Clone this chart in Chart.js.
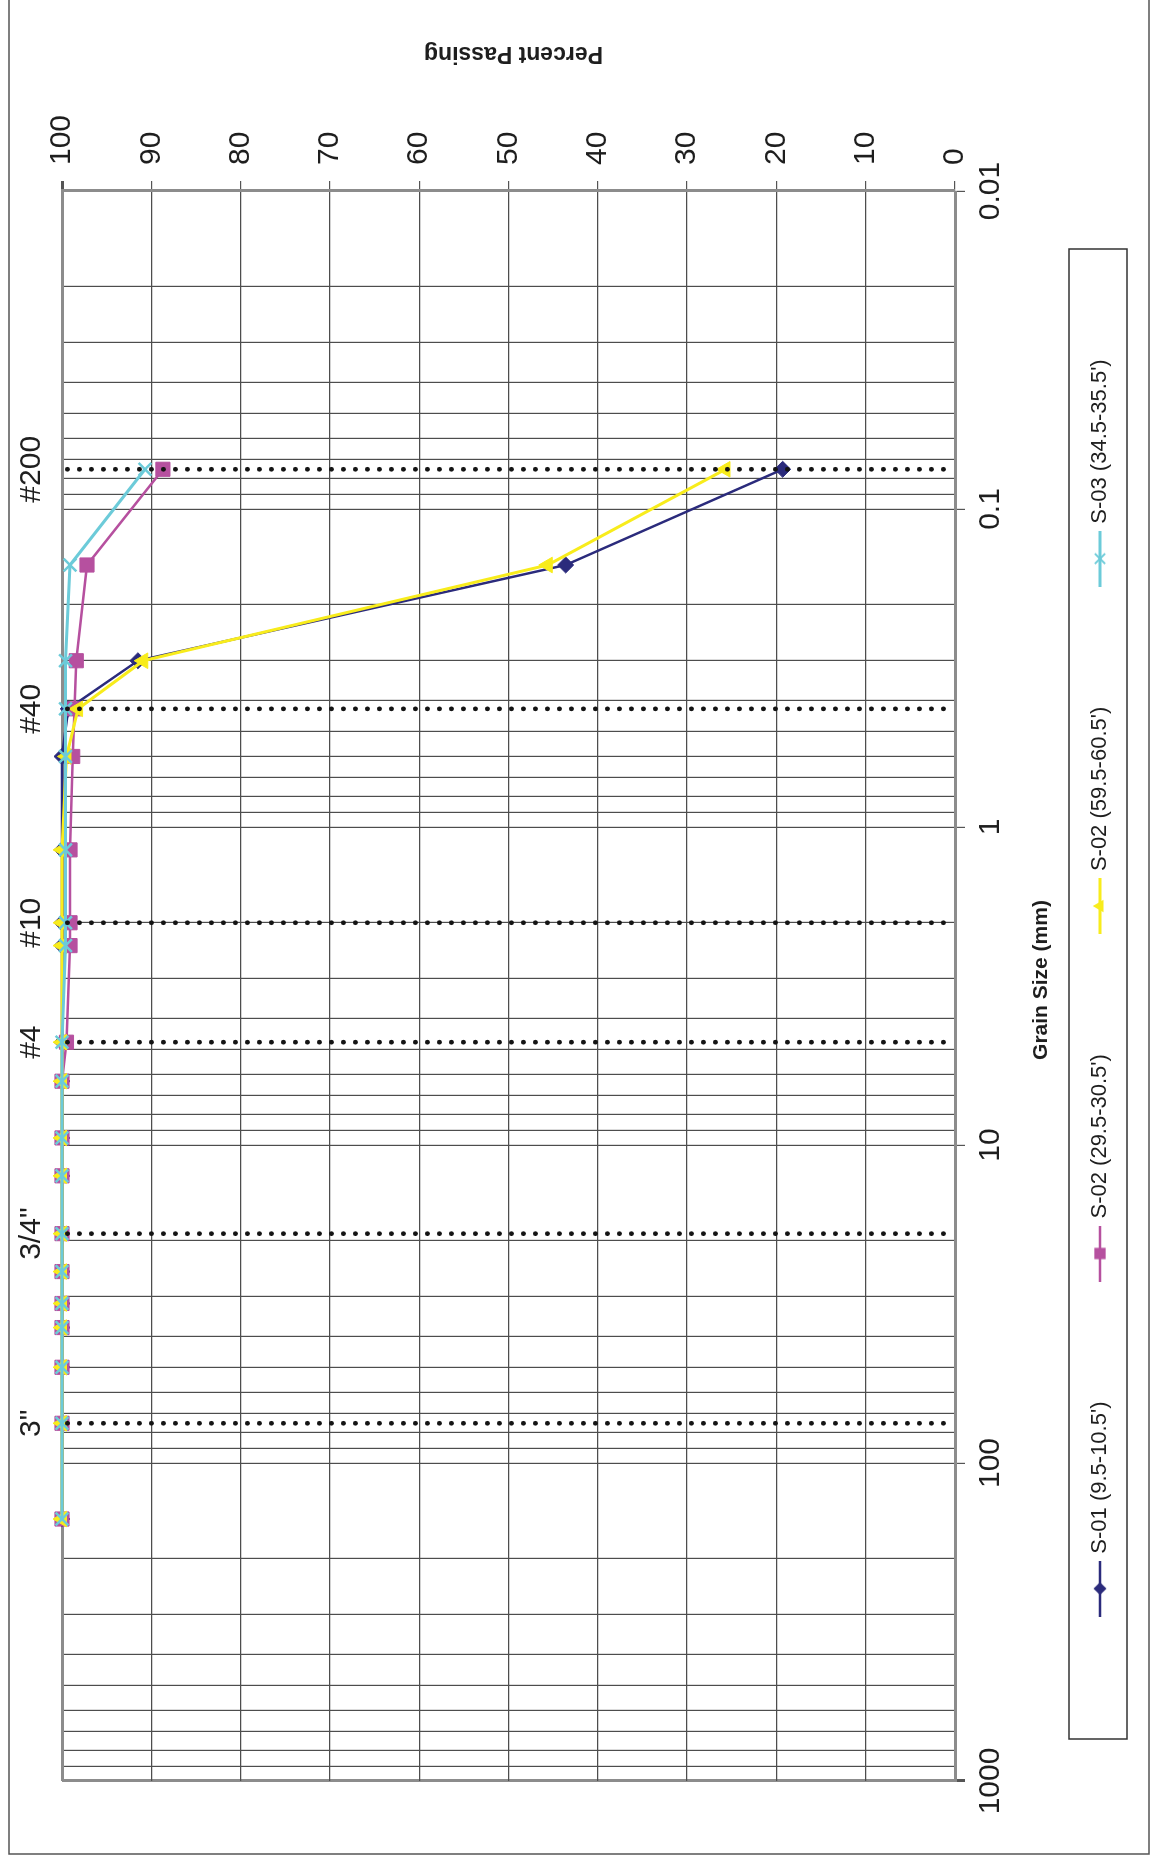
<!DOCTYPE html>
<html lang="en">
<head>
  <meta charset="UTF-8"/>
  <title>Grain Size Distribution</title>
  <style>
    html, body { margin: 0; padding: 0; background: #fff; }
    #page { position: relative; width: 1160px; height: 1860px; overflow: hidden; background: #fff; }
    /* chart is laid out landscape, then turned a quarter turn to the left */
    #chart { position: absolute; left: 0; top: 0; transform-origin: 0 0; transform: translateY(1860px) rotate(-90deg); }
  </style>
</head>
<body>
  <div id="page">
    <canvas id="chart" width="1860" height="1160"></canvas>
  </div>

  <script src="https://cdn.jsdelivr.net/npm/chart.js@4"></script>

  <script>
  // sieve openings (mm), coarse to fine
  const sieveSizes = [150, 75, 50, 37.5, 31.5, 25, 19, 12.5, 9.5, 6.3, 4.75, 2.36, 2.0, 1.18, 0.6, 0.425, 0.3, 0.15, 0.075];

  // percent passing for each sample
  const s01  = [100, 100, 100, 100, 100, 100, 100, 100, 100, 100, 100, 100, 100, 100, 100, 99.3, 91.5, 43.6, 19.3];
  const s02a = [100, 100, 100, 100, 100, 100, 100, 100, 100, 100, 99.5, 99.1, 99.1, 99.1, 98.8, 98.6, 98.4, 97.2, 88.7];
  const s02b = [100, 100, 100, 100, 100, 100, 100, 100, 100, 100, 100, 100, 100, 100, 99.5, 98.2, 90.9, 45.6, 25.7];
  const s03  = [100, 100, 100, 100, 100, 100, 100, 100, 100, 100, 100, 99.6, 99.6, 99.6, 99.6, 99.6, 99.6, 99.1, 90.7];

  const seriesNames = ["S-01 (9.5-10.5')", "S-02 (29.5-30.5')", "S-02 (59.5-60.5')", "S-03 (34.5-35.5')"];

  // marked sieves along the top
  const sieveMarks  = [75, 19, 4.75, 2.0, 0.425, 0.075];
  const sieveLabels = ['3"', '3/4"', '#4', '#10', '#40', '#200'];

  const decadeTicks = [0.01, 0.1, 1, 10, 100, 1000];
  const percentRange = [0, 100];

  const xTitle = 'Grain Size (mm)';
  const yTitle = 'Percent Passing';

  const FONT = '"Liberation Sans", Arial, Helvetica, sans-serif';
  Chart.defaults.font.family = FONT;
  Chart.defaults.color = '#1e1e1e';

  // log grid: 1..9 in every decade
  const gridValues = [];
  decadeTicks.forEach((d, i) => {
    if (i === decadeTicks.length - 1) { gridValues.push(d); return; }
    for (let m = 1; m <= 9; m++) gridValues.push(Number((m * d).toPrecision(3)));
  });

  const styles = [
    { color: '#2b2b7c', point: 'rectRot',  r: 8,  w: 2.5 },
    { color: '#b6509f', point: 'rect',     r: 10, w: 2.5 },
    { color: '#f8ec1c', point: 'triangle', r: 9,  w: 3 },
    { color: '#6ccbd9', point: 'crossRot', r: 9,  w: 3 }
  ];

  const LEGEND_PAD = 124;
  const LEGEND_MID = 1100;   // row centre, canvas y

  // little line+marker pictures for the legend
  function makeIcon(st) {
    const c = document.createElement('canvas');
    c.width = 56; c.height = 24;
    const g = c.getContext('2d');
    const cx = 28, cy = 12, r = st.r * 0.8;
    g.strokeStyle = st.color; g.fillStyle = st.color; g.lineWidth = st.w;
    g.beginPath(); g.moveTo(0, cy); g.lineTo(56, cy); g.stroke();
    g.beginPath();
    if (st.point === 'rectRot') {
      g.moveTo(cx, cy - r); g.lineTo(cx + r, cy); g.lineTo(cx, cy + r); g.lineTo(cx - r, cy);
      g.closePath(); g.fill();
    } else if (st.point === 'rect') {
      const h = r * 0.707;
      g.fillRect(cx - h, cy - h, 2 * h, 2 * h);
    } else if (st.point === 'triangle') {
      g.moveTo(cx, cy - r); g.lineTo(cx + r * 0.866, cy + r / 2); g.lineTo(cx - r * 0.866, cy + r / 2);
      g.closePath(); g.fill();
    } else {
      const h = r * 0.707;
      g.lineWidth = 2;
      g.moveTo(cx - h, cy - h); g.lineTo(cx + h, cy + h);
      g.moveTo(cx + h, cy - h); g.lineTo(cx - h, cy + h);
      g.stroke();
    }
    return c;
  }
  const legendIcons = styles.map(makeIcon);

  const seriesData = [s01, s02a, s02b, s03];
  const datasets = seriesData.map((vals, i) => ({
    label: seriesNames[i],
    data: sieveSizes.map((s, j) => ({ x: s, y: vals[j] })),
    showLine: true,
    borderColor: styles[i].color,
    backgroundColor: styles[i].color,
    pointBackgroundColor: styles[i].color,
    pointBorderColor: styles[i].color,
    pointStyle: styles[i].point,
    pointRadius: styles[i].r,
    pointBorderWidth: styles[i].point === 'crossRot' ? 2.5 : 1,
    borderWidth: styles[i].w,
    clip: false,
    order: 4 - i
  }));

  // dotted marks at the named sieves
  sieveMarks.forEach(s => {
    datasets.push({
      label: '',
      data: [{ x: s, y: percentRange[1] }, { x: s, y: percentRange[0] }],
      showLine: true,
      borderColor: '#141414',
      borderWidth: 4.8,
      borderDash: [0, 12],
      borderDashOffset: 6.5,
      borderCapStyle: 'round',
      pointRadius: 0,
      order: 0
    });
  });

  const extras = {
    id: 'extras',
    afterLayout(chart) {
      // keep the legend row where the original had it
      const lg = chart.legend;
      if (!lg) return;
      lg.top = LEGEND_MID - LEGEND_PAD - 11;
      lg.bottom = lg.top + lg.height;
    },
    beforeDraw(chart) {
      const c = chart.ctx;
      c.save(); c.fillStyle = '#fff'; c.fillRect(0, 0, chart.width, chart.height); c.restore();
    },
    afterDraw(chart) {
      const { ctx, chartArea: a } = chart;
      ctx.save();
      // outer frame
      ctx.strokeStyle = '#555'; ctx.lineWidth = 1.5;
      ctx.strokeRect(6, 9, 1900, 1140);
      // legend frame
      ctx.strokeStyle = '#333'; ctx.lineWidth = 1.5;
      ctx.strokeRect(a.left + 42, 1069, a.right - a.left - 100, 58);
      // axis titles
      ctx.fillStyle = '#1e1e1e';
      ctx.textAlign = 'center'; ctx.textBaseline = 'middle';
      ctx.font = 'bold 21px ' + FONT;
      ctx.fillText(xTitle, (a.left + a.right) / 2 + 6, 1041);
      ctx.font = 'bold 23px ' + FONT;
      ctx.translate(1807, (a.top + a.bottom) / 2 + 5);
      ctx.rotate(-Math.PI / 2);
      ctx.fillText(yTitle, 0, 0);
      ctx.restore();
    }
  };

  const isDecade = v => decadeTicks.includes(v);

  new Chart(document.getElementById('chart'), {
    type: 'scatter',
    data: { datasets },
    plugins: [extras],
    options: {
      responsive: false,
      animation: false,
      devicePixelRatio: 1,
      events: [],
      layout: { padding: { left: 79, top: 0, right: 0, bottom: 0 } },
      plugins: {
        tooltip: { enabled: false },
        legend: {
          position: 'bottom',
          fullSize: false,
          labels: {
            usePointStyle: true,
            pointStyleWidth: 48,
            padding: LEGEND_PAD,
            font: { size: 22 },
            color: '#1e1e1e',
            generateLabels: chart => chart.data.datasets.slice(0, 4).map((ds, i) => ({
              text: ds.label,
              pointStyle: legendIcons[i],
              fillStyle: ds.borderColor,
              strokeStyle: ds.borderColor,
              fontColor: '#1e1e1e',
              lineWidth: 0,
              hidden: false,
              datasetIndex: i
            }))
          }
        }
      },
      scales: {
        x: {
          type: 'logarithmic',
          position: 'bottom',
          min: 0.01, max: 1000,
          reverse: true,
          afterBuildTicks: s => { s.ticks = gridValues.map(v => ({ value: v })); },
          afterFit: s => { s.height = 49; },
          ticks: {
            autoSkip: false, maxRotation: 0, minRotation: 0, padding: 8,
            font: { size: 30 }, color: '#1e1e1e',
            callback: v => isDecade(v) ? String(v) : ''
          },
          grid: {
            color: c => c.tick && c.tick.value === 1000 ? '#8c8c8c' : '#4d4d4d',
            lineWidth: c => c.tick && c.tick.value === 1000 ? 3 : 1.2,
            tickLength: 10,
            tickColor: c => c.tick && isDecade(c.tick.value) ? '#555' : 'rgba(0,0,0,0)'
          },
          border: { color: '#8c8c8c', width: 3 }
        },
        sieve: {
          type: 'logarithmic',
          axis: 'x',
          position: 'top',
          min: 0.01, max: 1000,
          reverse: true,
          afterBuildTicks: s => { s.ticks = sieveMarks.map(v => ({ value: v })); },
          afterFit: s => { s.height = 62; },
          ticks: {
            autoSkip: false, maxRotation: 0, minRotation: 0, padding: 12,
            font: { size: 30 }, color: '#1e1e1e',
            callback: (v, i) => sieveLabels[i]
          },
          grid: { display: false, drawTicks: false },
          border: { display: false }
        },
        y: {
          type: 'linear',
          position: 'right',
          min: percentRange[0], max: percentRange[1],
          afterFit: s => { s.width = 191; },
          ticks: { stepSize: 10, padding: 16, font: { size: 30 }, color: '#1e1e1e' },
          grid: {
            color: c => c.tick && c.tick.value === 100 ? '#8c8c8c' : '#4d4d4d',
            lineWidth: c => c.tick && c.tick.value === 100 ? 3 : 1.2,
            tickLength: 10,
            tickColor: '#555'
          },
          border: { color: '#8c8c8c', width: 3 }
        }
      }
    }
  });
  </script>
</body>
</html>
